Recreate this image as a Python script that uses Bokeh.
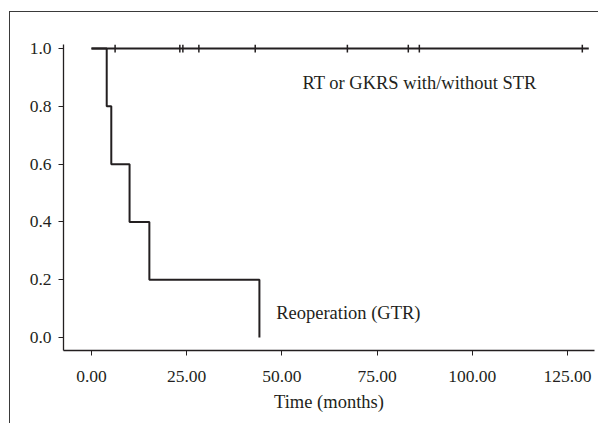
import numpy as np
from bokeh.plotting import figure
from bokeh.models import Range1d, FixedTicker, PrintfTickFormatter, Label
from bokeh.embed import file_html
from bokeh.resources import INLINE

# --- data ---
# Group 1: RT or GKRS with/without STR (no events, survival stays at 1.0)
rt_line_x = [0.0, 130.6]
rt_line_y = [1.0, 1.0]
rt_censor_times = [6.2, 23.2, 24.0, 28.2, 43.0, 67.2, 83.2, 86.1, 128.9]
rt_censor_surv = [1.0] * len(rt_censor_times)

# Group 2: Reoperation (GTR) step curve
reop_times = [0.0, 4.0, 5.2, 10.0, 15.2, 44.1]
reop_surv = [1.0, 0.8, 0.6, 0.4, 0.2, 0.0]

x_ticks = [0, 25, 50, 75, 100, 125]
y_ticks = [0.0, 0.2, 0.4, 0.6, 0.8, 1.0]

label_rt = "RT or GKRS with/without STR"
label_reop = "Reoperation (GTR)"
x_title = "Time (months)"

INK = "#231f20"
FONT = "Liberation Serif"

p = figure(width=589, height=412, output_backend="svg", toolbar_location=None,
           x_range=Range1d(-7.35, 132.1), y_range=Range1d(-0.045, 1.014),
           min_border_left=53, min_border_top=32, min_border_right=5,
           min_border_bottom=74)
p.margin = (11, 0, 0, 9)
p.styles = {"border-top": "1px solid #3a3a3a", "border-left": "1px solid #3a3a3a"}
p.outline_line_color = None
p.background_fill_color = "white"
p.border_fill_color = "white"
p.xgrid.visible = False
p.ygrid.visible = False

for ax in (p.xaxis[0], p.yaxis[0]):
    ax.axis_line_color = INK
    ax.axis_line_width = 1.3
    ax.major_tick_line_color = INK
    ax.major_tick_line_width = 1
    ax.major_tick_out = 5
    ax.major_tick_in = 0
    ax.minor_tick_line_color = None
    ax.major_label_text_font = FONT
    ax.major_label_text_font_size = "17.5px"
    ax.major_label_text_color = INK
    ax.axis_label_text_font = FONT
    ax.axis_label_text_font_size = "18.5px"
    ax.axis_label_text_font_style = "normal"
    ax.axis_label_text_color = INK

p.xaxis.ticker = FixedTicker(ticks=x_ticks)
p.xaxis.formatter = PrintfTickFormatter(format="%.2f")
p.xaxis.major_label_standoff = 15
p.xaxis.axis_label = x_title
p.xaxis.axis_label_standoff = 7

p.yaxis.ticker = FixedTicker(ticks=y_ticks)
p.yaxis.formatter = PrintfTickFormatter(format="%.1f")
p.yaxis.major_label_standoff = 7

# curves
p.line(rt_line_x, rt_line_y, line_color=INK, line_width=2)
p.scatter(rt_censor_times, rt_censor_surv, marker="dash", angle=np.pi / 2,
          size=8, line_color=INK, line_width=1.5)
p.step(reop_times, reop_surv, mode="after", line_color=INK, line_width=2)

p.add_layout(Label(x=55.4, y=0.88, text=label_rt, text_font=FONT,
                   text_font_size="18.5px", text_color=INK,
                   text_baseline="alphabetic", text_align="left"))
p.add_layout(Label(x=48.5, y=0.085, text=label_reop, text_font=FONT,
                   text_font_size="18.5px", text_color=INK,
                   text_baseline="alphabetic", text_align="left"))

open("out.html", "w").write(file_html(p, INLINE))
